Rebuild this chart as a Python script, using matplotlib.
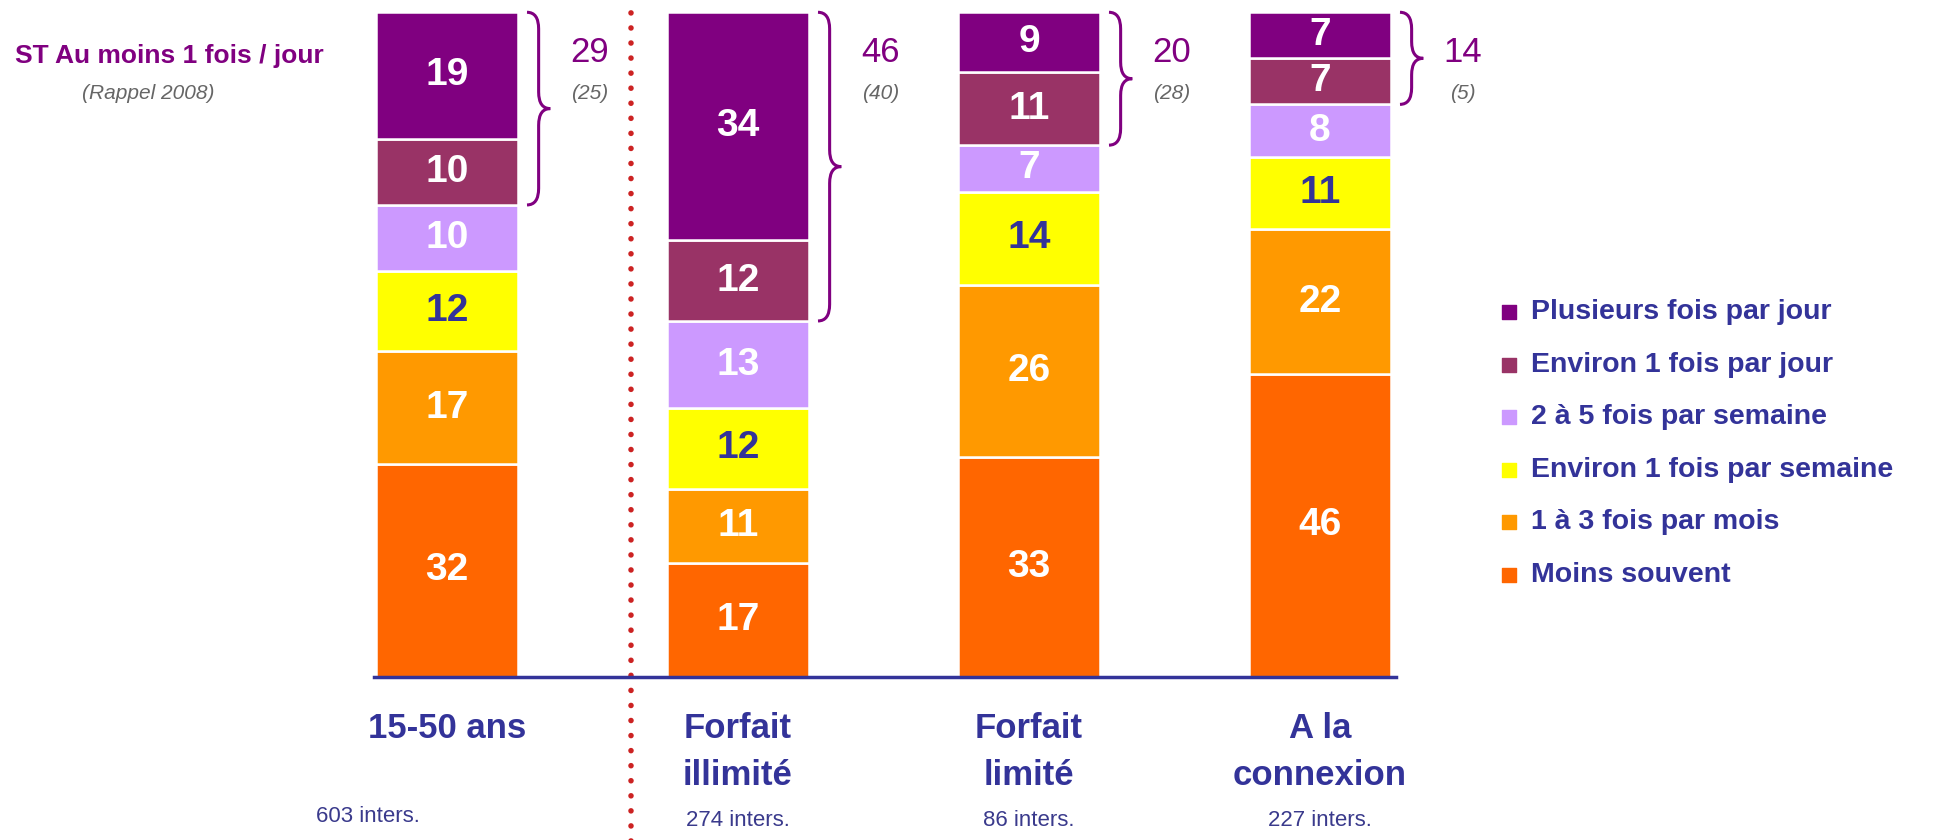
import numpy as np
import matplotlib
matplotlib.use('Agg')
from matplotlib import pyplot as plt
from matplotlib.path import Path
from matplotlib.patches import PathPatch

# donnees
categories = ['15-50 ans', 'Forfait\nillimité', 'Forfait\nlimité', 'A la\nconnexion']
effectifs = ['603 inters.', '274 inters.', '86 inters.', '227 inters.']

modalites = ['Plusieurs fois par jour', 'Environ 1 fois par jour', '2 à 5 fois par semaine',
             'Environ 1 fois par semaine', '1 à 3 fois par mois', 'Moins souvent']
plusieurs_jour = [19, 34, 9, 7]
environ_jour = [10, 12, 11, 7]
deux_cinq_sem = [10, 13, 7, 8]
environ_sem = [12, 12, 14, 11]
un_trois_mois = [17, 11, 26, 22]
moins_souvent = [32, 17, 33, 46]

st_jour = [29, 46, 20, 14]
rappel_2008 = ['(25)', '(40)', '(28)', '(5)']

couleurs = ['#800080', '#993366', '#CC99FF', '#FFFF00', '#FF9900', '#FF6600']
bleu = '#333399'
violet = '#800080'
sans = ['Liberation Sans', 'DejaVu Sans']

series = [plusieurs_jour, environ_jour, deux_cinq_sem, environ_sem, un_trois_mois, moins_souvent]
valeurs = np.array(series, dtype=float)
totaux = valeurs.sum(axis=0)
hauteurs = valeurs / totaux * 100  # barres ramenees a 100%

x = np.arange(len(categories))
largeur = 0.49

fig = plt.figure(figsize=(19.36, 8.4), dpi=100)
ax = fig.add_axes([0, 0, 1, 1])
ax.set_xlim(-1.536, 5.117)
ax.set_ylim(-24.6, 101.85)
ax.axis('off')

# empilement du bas vers le haut
bas = np.zeros(len(categories))
for j in range(len(series) - 1, -1, -1):
    ax.bar(x, hauteurs[j], bottom=bas, width=largeur, color=couleurs[j],
           edgecolor='white', linewidth=1.8, zorder=2)
    coul_txt = bleu if j == 3 else 'white'
    for i in range(len(categories)):
        ax.text(x[i], bas[i] + hauteurs[j][i] / 2, str(series[j][i]), ha='center', va='center',
                fontsize=28, fontweight='bold', color=coul_txt, family=sans, zorder=3)
    bas = bas + hauteurs[j]

# ligne de base
ax.plot([-0.25, 3.26], [0, 0], color=bleu, lw=2.5, zorder=4)

# separateur pointille
ax.plot([0.632, 0.632], [-25, 102], color='#CC2222', lw=4, linestyle=(0, (0.01, 2.7)),
        dash_capstyle='round', zorder=1)

# accolades ST au moins 1 fois / jour
for i in range(len(categories)):
    haut = 100
    bas_acc = 100 - hauteurs[0][i] - hauteurs[1][i]
    milieu = (haut + bas_acc) / 2
    x0 = x[i] + largeur / 2 + 0.03
    xm = x0 + 0.04
    xt = x0 + 0.08
    r = 2.5
    verts = [(x0, haut), (xm, haut), (xm, haut - r),
             (xm, milieu + r),
             (xm, milieu), (xt, milieu),
             (xm, milieu), (xm, milieu - r),
             (xm, bas_acc + r),
             (xm, bas_acc), (x0, bas_acc)]
    codes = [Path.MOVETO, Path.CURVE3, Path.CURVE3,
             Path.LINETO,
             Path.CURVE3, Path.CURVE3,
             Path.CURVE3, Path.CURVE3,
             Path.LINETO,
             Path.CURVE3, Path.CURVE3]
    ax.add_patch(PathPatch(Path(verts, codes), fill=False, edgecolor=violet, lw=2.2, zorder=3))
    ax.text(x[i] + 0.49, 94.0, str(st_jour[i]), ha='center', va='center', fontsize=25,
            color=violet, family=sans)
    ax.text(x[i] + 0.49, 87.7, rappel_2008[i], ha='center', va='center', fontsize=15,
            style='italic', color='#666666', family=sans)

ax.text(-1.485, 93.4, 'ST Au moins 1 fois / jour', ha='left', va='center', fontsize=19,
        fontweight='bold', color=violet, family=sans)
ax.text(-1.027, 87.7, '(Rappel 2008)', ha='center', va='center', fontsize=15,
        style='italic', color='#666666', family=sans)

# libelles des categories
for i in range(len(categories)):
    ax.text(x[i], -5.4, categories[i], ha='center', va='top', fontsize=25, fontweight='bold',
            color=bleu, family=sans, linespacing=1.53)
pos_eff = [-0.27, 1.0, 2.0, 3.0]
y_eff = [-21.0, -21.6, -21.6, -21.6]
for i in range(len(categories)):
    ax.text(pos_eff[i], y_eff[i], effectifs[i], ha='center', va='center', fontsize=16,
            color='#3A3A8C', family=sans)

# legende
y_leg = [54.9, 46.9, 39.1, 31.1, 23.3, 15.3]
for j in range(len(modalites)):
    ax.scatter([3.649], [y_leg[j]], marker='s', s=90, color=couleurs[j], zorder=3)
    ax.text(3.725, y_leg[j], modalites[j], ha='left', va='center', fontsize=20.5,
            fontweight='bold', color=bleu, family=sans)

fig.savefig('out.png', dpi=100)
